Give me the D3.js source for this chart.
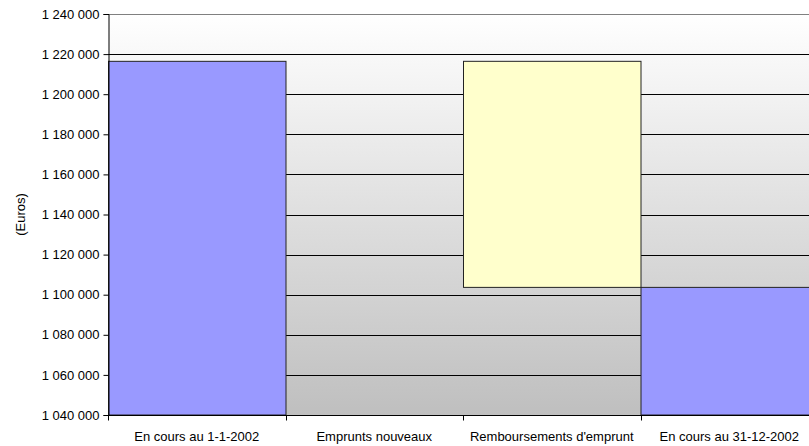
<!DOCTYPE html>
<html>
<head>
<meta charset="utf-8">
<script src="https://cdn.jsdelivr.net/npm/d3@7"></script>
<style>
  body { margin: 0; background: #fff; }
  text { font-family: "Liberation Sans", Arial, sans-serif; font-size: 13px; fill: #000; }
</style>
</head>
<body>
<div id="chart"></div>
<script>
// categories and values (euros)
var categories = ["En cours au 1-1-2002", "Emprunts nouveaux", "Remboursements d'emprunt", "En cours au 31-12-2002"];
var barBase = [1040000, 1216400, 1103650, 1040000];
var barTop = [1216400, 1216400, 1216400, 1103650];
var barColors = ["#9999ff", "none", "#ffffcc", "#9999ff"];
var yTicks = d3.range(1040000, 1240001, 20000);

var margin = {top: 14, right: -9, bottom: 31, left: 108}
  , width = 809 - margin.left - margin.right
  , height = 446 - margin.top - margin.bottom;

var svg = d3.select("#chart").append("svg")
    .attr("width", 809)
    .attr("height", 446);

var defs = svg.append("defs");
var grad = defs.append("linearGradient")
    .attr("id", "bg").attr("x1", 0).attr("y1", 0).attr("x2", 0).attr("y2", 1);
grad.append("stop").attr("offset", "0%").attr("stop-color", "#ffffff");
grad.append("stop").attr("offset", "100%").attr("stop-color", "#bfbfbf");

var g = svg.append("g")
    .attr("transform", "translate(" + margin.left + "," + margin.top + ")");

var xScale = d3.scaleBand()
    .domain(categories)
    .range([0, width])
    .padding(0);

var yScale = d3.scaleLinear()
    .domain([1040000, 1240000])
    .range([height, 0]);

// plot background
g.append("rect")
    .attr("width", width)
    .attr("height", height)
    .attr("fill", "url(#bg)");

// gridlines
g.selectAll(".grid")
    .data(yTicks.slice(1))
  .enter().append("line")
    .attr("x1", 0).attr("x2", width)
    .attr("y1", function(d) { return Math.round(yScale(d)) + 0.5; })
    .attr("y2", function(d) { return Math.round(yScale(d)) + 0.5; })
    .attr("stroke", function(d, i) { return d === 1240000 ? "#808080" : "#000"; })
    .attr("stroke-width", 1);

// bars
g.selectAll(".bar")
    .data(categories)
  .enter().append("rect")
    .attr("x", function(d) { return xScale(d) + 0.5; })
    .attr("width", xScale.bandwidth())
    .attr("y", function(d, i) { return yScale(barTop[i]); })
    .attr("height", function(d, i) { return yScale(barBase[i]) - yScale(barTop[i]); })
    .attr("fill", function(d, i) { return barColors[i]; })
    .attr("stroke", function(d, i) { return barColors[i] === "none" ? "none" : "#222"; })
    .attr("stroke-width", 1);

// y axis
var yAxis = g.append("g")
    .attr("transform", "translate(0.5,0)")
    .call(d3.axisLeft(yScale)
      .tickValues(yTicks)
      .tickSize(5)
      .tickPadding(4)
      .tickFormat(function(d) { return d3.format(",")(d).replace(/,/g, " "); }));
yAxis.select(".domain").attr("stroke", "#000");
yAxis.selectAll(".tick line").attr("stroke", "#000");
yAxis.selectAll("text").attr("fill", "#000").style("font-size", "13px")
    .style("font-family", "'Liberation Sans', Arial, sans-serif");

// x axis
var xAxis = g.append("g")
    .attr("transform", "translate(0," + (height + 0.5) + ")");
xAxis.append("line")
    .attr("x1", 0).attr("x2", width)
    .attr("stroke", "#000");
xAxis.selectAll(".xtick")
    .data(d3.range(categories.length + 1))
  .enter().append("line")
    .attr("x1", function(i) { return Math.round(i * xScale.step()) + 0.5; })
    .attr("x2", function(i) { return Math.round(i * xScale.step()) + 0.5; })
    .attr("y1", 0).attr("y2", 5)
    .attr("stroke", "#000");
xAxis.selectAll(".xlabel")
    .data(categories)
  .enter().append("text")
    .attr("x", function(d) { return xScale(d) + xScale.bandwidth() / 2; })
    .attr("y", 25)
    .attr("text-anchor", "middle")
    .text(function(d) { return d; });

// y axis title
svg.append("text")
    .attr("transform", "translate(25," + (margin.top + height / 2) + ") rotate(-90)")
    .attr("text-anchor", "middle")
    .text("(Euros)");
</script>
</body>
</html>
